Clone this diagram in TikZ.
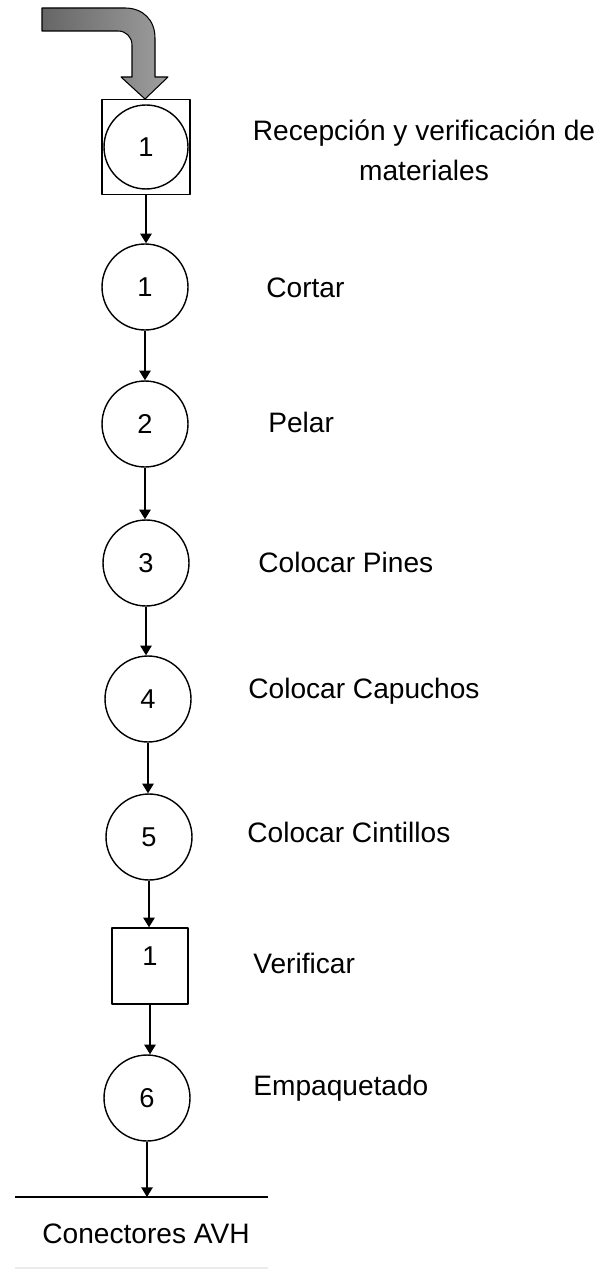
\documentclass[tikz,border=0pt]{standalone}
\usepackage{fontspec}
\setmainfont{Liberation Sans}
\usetikzlibrary{arrows.meta}

\tikzset{
  opcircle/.style={circle, draw, line width=0.8pt, minimum size=1.72cm, inner sep=0pt,
    font=\fontsize{15.5}{18}\selectfont},
  insbox/.style={rectangle, draw, line width=0.8pt, inner sep=0pt,
    font=\fontsize{15.5}{18}\selectfont},
  lbl/.style={anchor=base west, inner sep=0pt, font=\fontsize{16}{19}\selectfont},
  flow/.style={line width=0.8pt, -{Triangle[length=5.5pt,width=6.5pt]}},
}

\begin{document}
\begin{tikzpicture}[x=0.02cm, y=-0.02cm, line join=round]
\useasboundingbox (0,0) rectangle (610,1270);

% flecha de entrada
\draw[line width=0.6pt, left color=black!60, right color=black!38]
  (42,8) -- (125,8) .. controls (143,8) and (155,20) .. (155,38)
  -- (155,77) -- (168,77) -- (145,99) -- (121,77) -- (132,77)
  -- (132,45) .. controls (132,37) and (126,31) .. (118,31) -- (42,31) -- cycle;

% recepcion: inspeccion + operacion
\node[insbox, minimum width=1.76cm, minimum height=1.9cm] (insp) at (146,147) {};
\node[opcircle, minimum size=1.68cm] (recv) at (146,147) {1};

% operaciones
\foreach \name/\x/\y/\num in {op1/145/287/1, op2/145/424/2, op3/146/563/3,
    op4/148/699/4, op5/149/837/5, op6/147/1098/6}
  \node[opcircle] (\name) at (\x,\y) {\num};

% inspeccion
\node[insbox, minimum size=1.52cm, text height=0.34cm, text depth=0.36cm] (verif) at (150,966) {1};

% textos
\node[inner sep=0pt, align=center, font=\fontsize{16}{22.8}\selectfont] (t-recv) at (424,150)
  {Recepción y verificación de\\materiales};
\foreach \name/\x/\y/\txt in {op1/266/297/Cortar, op2/268/432/Pelar,
    op3/258/572/Colocar Pines, op4/248/698/Colocar Capuchos,
    op5/247/842/Colocar Cintillos, verif/253/973/Verificar, op6/253/1095/Empaquetado}
  \node[lbl] (t-\name) at (\x,\y) {\txt};

% flechas (verticales)
\foreach \a/\b in {insp/op1, op1/op2, op2/op3, op3/op4, op4/op5, op5/verif, verif/op6}
  \draw[flow] (\a.south) -- (\a.south |- \b.north);

% producto final
\coordinate (baseL) at (15,1197);  \coordinate (baseR) at (268,1197);
\coordinate (pieL) at (15,1268);   \coordinate (pieR) at (268,1268);
\draw[line width=0.8pt] (baseL) -- (baseR);
\draw[flow] (op6.south) -- (op6.south |- baseL);
\node[inner sep=0pt, anchor=base, font=\fontsize{16}{19}\selectfont] (prod) at (146,1243) {Conectores AVH};
\draw[black!8, line width=0.8pt] (pieL) -- (pieR);
\end{tikzpicture}
\end{document}
